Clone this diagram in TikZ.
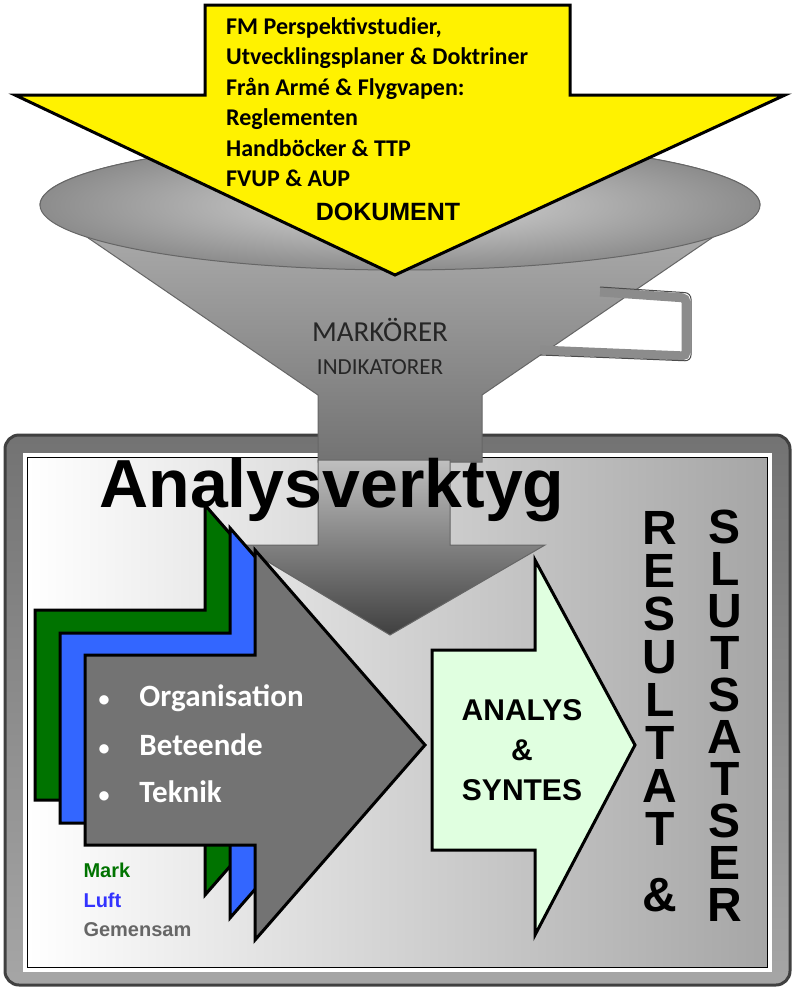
\documentclass[tikz,border=0pt]{standalone}
\usepackage{fontspec}
\setmainfont{Carlito}
\newfontfamily\arial{Liberation Sans}
\begin{document}
\begin{tikzpicture}[x=1pt,y=-1pt,
  outl/.style={draw=black,line width=3pt,line join=miter},
  doc/.style={font=\bfseries\fontsize{24}{24}\selectfont,anchor=west,inner sep=0pt},
  bul/.style={font=\bfseries\fontsize{31}{31}\selectfont,text=white,anchor=west},
  leg/.style={font=\arial\bfseries\fontsize{20}{20}\selectfont,anchor=west},
  vlet/.style={font=\arial\bfseries\fontsize{48}{48}\selectfont,inner sep=0pt},
  syn/.style={font=\arial\bfseries\fontsize{30}{30}\selectfont,inner sep=0pt}]
\useasboundingbox (0,0) rectangle (798,994);
% big box
\path[draw=black!75,line width=3pt,rounded corners=14pt,top color=black!55,bottom color=black!35] (5,435) rectangle (790,985);
\path[draw=black,line width=1.5pt,left color=white,right color=black!35] (27,457) rectangle (768,968);
\draw[white,line width=4pt] (25,455) rectangle (770,970);
% funnel
\shade[top color=black!25,bottom color=black!55,draw=black!60,line width=1pt] (40,205) arc(180:360:360 and 65) -- (482,395) -- (482,462) -- (318,462) -- (318,395) -- cycle;
\draw[black!45,line width=9pt,rounded corners=4pt] (600,292) -- (686,298) -- (686,356) -- (540,350);
\draw[black!70,line width=1pt,rounded corners=6pt] (600,287) -- (691,293) -- (691,361) -- (540,355);
\shade[inner color=black!15,outer color=black!45,draw=black!60,line width=1pt] (400,205) ellipse (360 and 65);
% yellow arrow
\node[coordinate] (yt) at (395,275) {};
\path[outl,fill=yellow] (205,5) -- (570,5) -- (570,95) -- (785,95) -- (yt) -- (15,95) -- (205,95) -- cycle;
\node[doc] (d1) at (226,28) {FM Perspektivstudier,};
\node[doc] (d2) at (226,58) {Utvecklingsplaner \& Doktriner};
\node[doc] (d3) at (226,89) {Från Armé \& Flygvapen:};
\node[doc] (d4) at (226,119) {Reglementen};
\node[doc] (d5) at (226,148) {Handböcker \& TTP};
\node[doc] (d6) at (226,178) {FVUP \& AUP};
\node[font=\arial\bfseries\fontsize{25}{25}\selectfont] (dk) at (388,212) {DOKUMENT};
\node[font=\fontsize{29}{29}\selectfont,text=black!85] (mk) at (380,330) {MARKÖRER};
\node[font=\fontsize{23}{23}\selectfont,text=black!85] (ind) at (380,367) {INDIKATORER};
% funnel down arrow in box
\path[draw=black!60,line width=1pt,top color=black!25,bottom color=black!75] (318,460) -- (450,460) -- (450,545) -- (545,545) -- (390,635) -- (240,545) -- (318,545) -- cycle;
% stacked arrows
\def\arr#1#2{(85+#1,655+#2) -- (255+#1,655+#2) -- (255+#1,550+#2) -- (425+#1,745+#2) -- (255+#1,940+#2) -- (255+#1,845+#2) -- (85+#1,845+#2) -- cycle}
\path[outl,fill=green!45!black] \arr{-50}{-45};
\path[outl,fill=blue!75!cyan!80!white] \arr{-25}{-22};
\path[outl,fill=black!55] \arr{0}{0};
\node[bul] (b1) at (95,698) {\fontsize{22}{22}\selectfont•\hspace{30pt}\fontsize{31}{31}\selectfont Organisation};
\node[bul] (b2) at (95,745) {\fontsize{22}{22}\selectfont•\hspace{30pt}\fontsize{31}{31}\selectfont Beteende};
\node[bul] (b3) at (95,792) {\fontsize{22}{22}\selectfont•\hspace{30pt}\fontsize{31}{31}\selectfont Teknik};
\node[leg,text=green!45!black] (mark) at (80,870) {Mark};
\node[leg,text=blue!80!white] (luft) at (80,900) {Luft};
\node[leg,text=black!60] (gem) at (80,930) {Gemensam};
% analysverktyg
\node[font=\arial\bfseries\fontsize{68}{68}\selectfont] (av) at (332,490) {Analysverktyg};
% green analysis arrow
\path[outl,fill=green!12] (432,650) -- (535,650) -- (535,560) -- (635,745) -- (535,935) -- (535,850) -- (432,850) -- cycle;
\node[syn] (s1) at (522,710) {ANALYS};
\node[syn] (s2) at (522,750) {\&};
\node[syn] (s3) at (522,790) {SYNTES};
% vertical words
\foreach \l [count=\i] in {R,E,S,U,L,T,A,T}
  \node[vlet] (r\i) at (660,485+43*\i) {\l};
\node[vlet] (ramp) at (660,895) {\&};
\foreach \l [count=\i] in {S,L,U,T,S,A,T,S,E,R}
  \node[vlet] (s\i) at (725,485+42*\i) {\l};
\end{tikzpicture}
\end{document}
